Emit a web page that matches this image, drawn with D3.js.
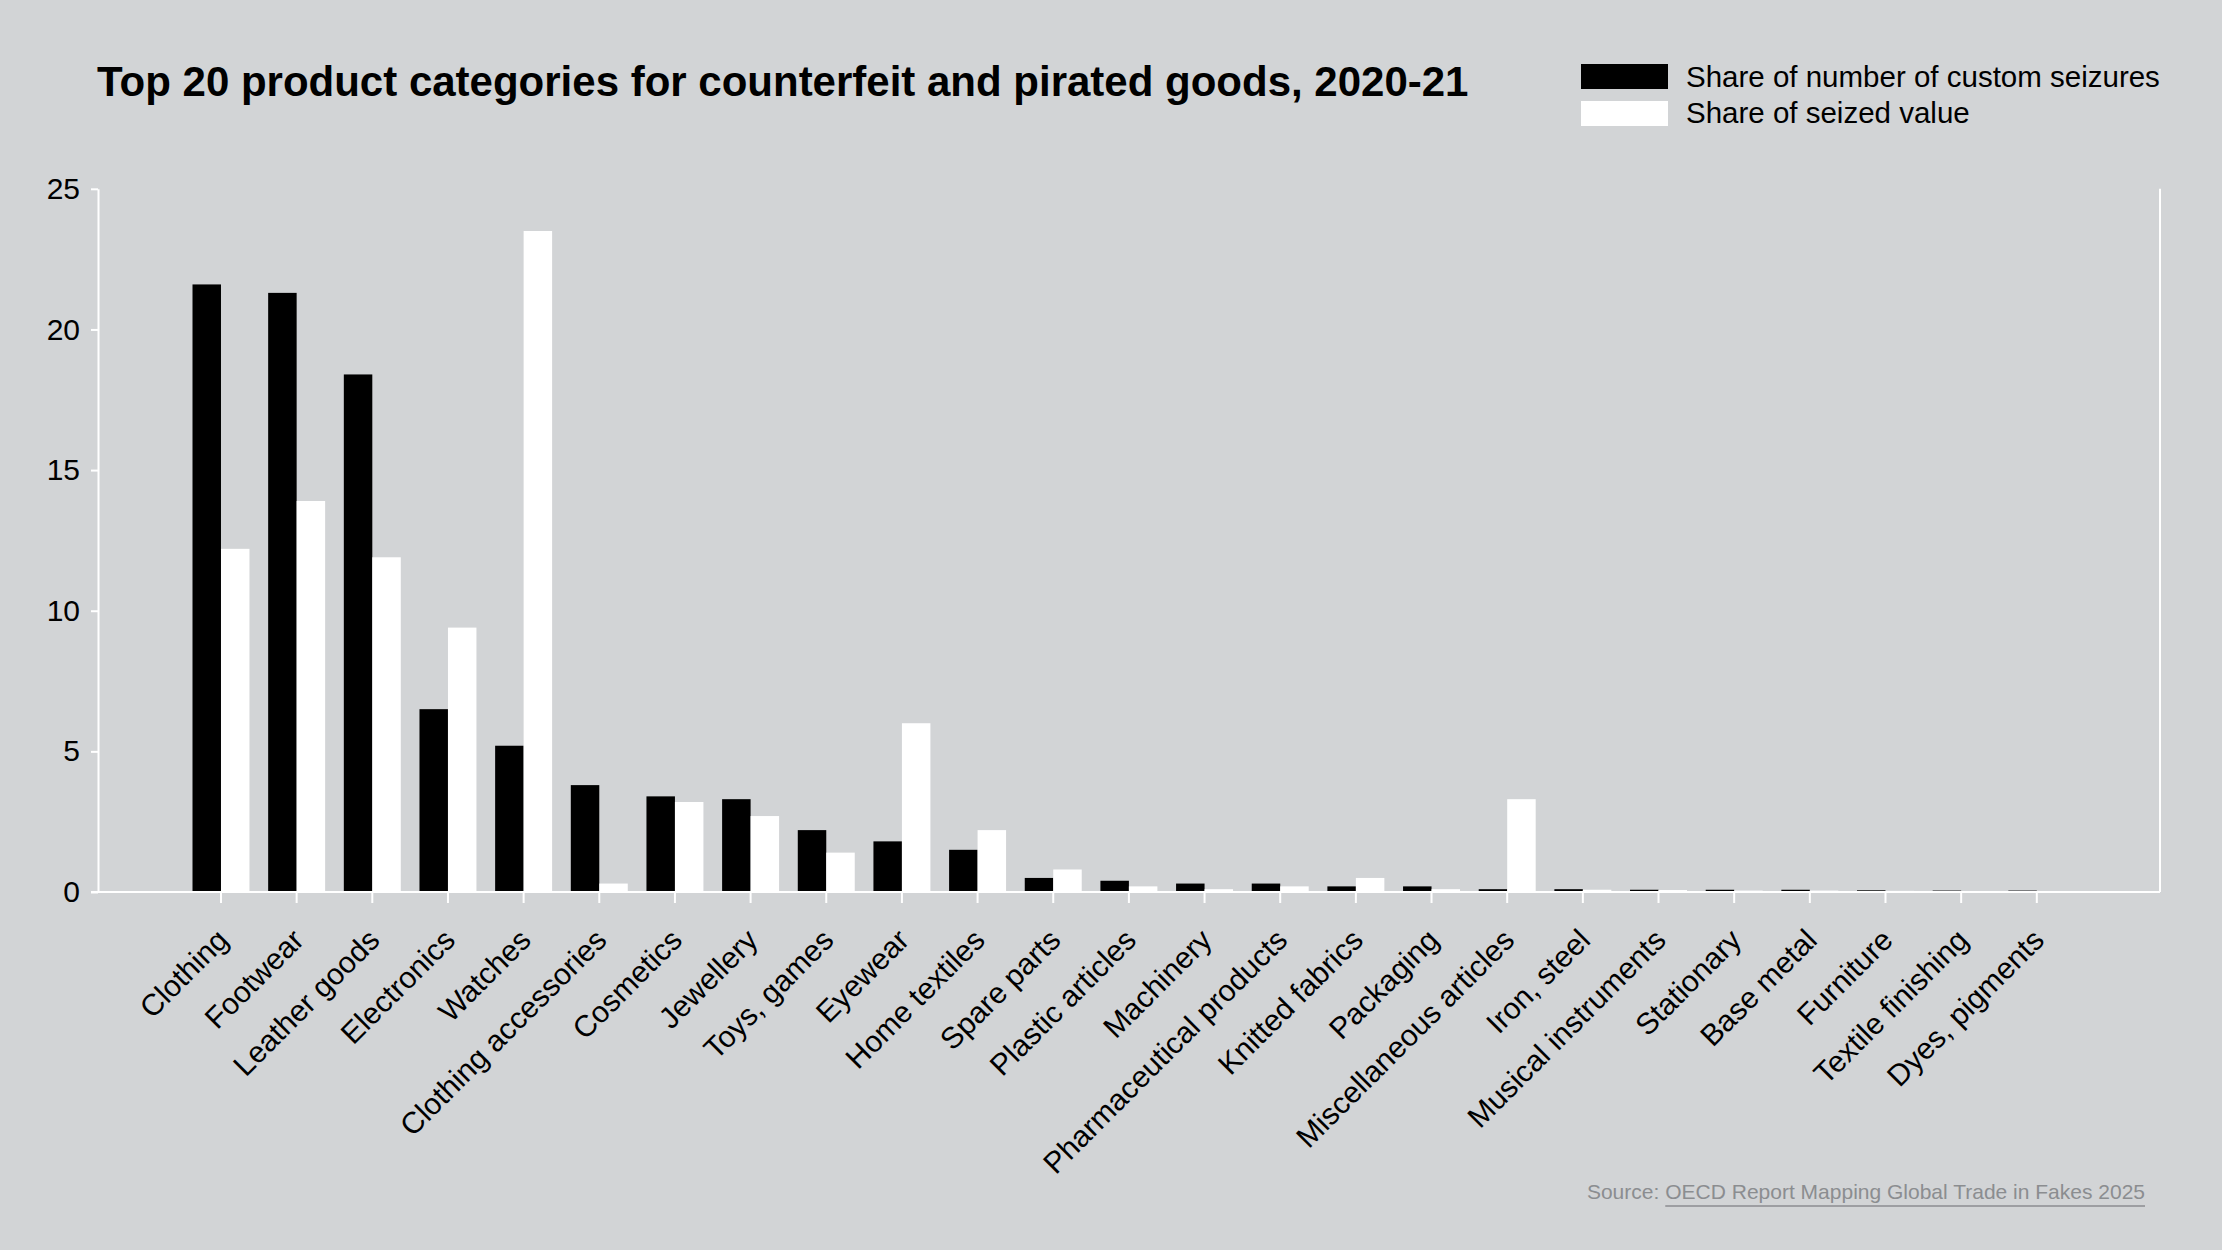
<!DOCTYPE html>
<html>
<head>
<meta charset="utf-8">
<script src="https://d3js.org/d3.v7.min.js"></script>
<style>
  body { margin: 0; background: #d2d4d6; }
  svg { display: block; font-family: "Liberation Sans", Arial, Helvetica, sans-serif; }
</style>
</head>
<body>
<div id="container"></div>
<script>
  // svg dimensions
  width = 2222
  height = 1250

  // data
  var categories = ["Clothing", "Footwear", "Leather goods", "Electronics", "Watches",
    "Clothing accessories", "Cosmetics", "Jewellery", "Toys, games", "Eyewear",
    "Home textiles", "Spare parts", "Plastic articles", "Machinery", "Pharmaceutical products",
    "Knitted fabrics", "Packaging", "Miscellaneous articles", "Iron, steel", "Musical instruments",
    "Stationary", "Base metal", "Furniture", "Textile finishing", "Dyes, pigments"];
  var seizureShare = [21.6, 21.3, 18.4, 6.5, 5.2, 3.8, 3.4, 3.3, 2.2, 1.8,
    1.5, 0.5, 0.4, 0.3, 0.3, 0.2, 0.2, 0.1, 0.1, 0.08,
    0.08, 0.08, 0.06, 0.05, 0.05];
  var valueShare = [12.2, 13.9, 11.9, 9.4, 23.5, 0.3, 3.2, 2.7, 1.4, 6.0,
    2.2, 0.8, 0.2, 0.1, 0.2, 0.5, 0.1, 3.3, 0.08, 0.07,
    0.05, 0.05, 0.04, 0.03, 0.02];
  var seriesNames = ["Share of number of custom seizures", "Share of seized value"];
  var seriesColors = ["#000000", "#ffffff"];
  var yTicks = [0, 5, 10, 15, 20, 25];

  var svg = d3.select("#container").append("svg")
    .attr("width", width)
    .attr("height", height);

  svg.append("rect")
    .attr("width", width)
    .attr("height", height)
    .attr("fill", "#d2d4d6");

  // plot area
  var plotLeft = 98, plotRight = 2160, plotTop = 188.8, plotBottom = 892;

  var x0 = d3.scaleBand()
    .domain(categories)
    .range([192.5, 2065.3])
    .paddingInner(0.247)
    .paddingOuter(0);

  var x1 = d3.scaleBand()
    .domain([0, 1])
    .range([0, x0.bandwidth()]);

  var y = d3.scaleLinear()
    .domain([0, 25])
    .range([plotBottom, plotTop]);

  // title
  svg.append("text")
    .attr("x", 97)
    .attr("y", 96)
    .attr("font-size", 42)
    .attr("font-weight", "bold")
    .attr("fill", "#000")
    .text("Top 20 product categories for counterfeit and pirated goods, 2020-21");

  // legend
  var legend = svg.append("g");
  seriesNames.forEach(function(name, i) {
    legend.append("rect")
      .attr("x", 1581)
      .attr("y", 64 + i * 37)
      .attr("width", 87)
      .attr("height", 25)
      .attr("fill", seriesColors[i]);
    legend.append("text")
      .attr("x", 1686)
      .attr("y", 87 + i * 36)
      .attr("font-size", 29.5)
      .attr("fill", "#000")
      .text(name);
  });

  // bars
  var rows = categories.map(function(c, i) {
    return { name: c, values: [seizureShare[i], valueShare[i]] };
  });

  var groups = svg.append("g")
    .selectAll("g")
    .data(rows)
    .join("g")
    .attr("transform", function(d) { return "translate(" + x0(d.name) + ",0)"; });

  groups.selectAll("rect")
    .data(function(d) { return d.values.map(function(v, k) { return { k: k, v: v }; }); })
    .join("rect")
    .attr("x", function(d) { return x1(d.k); })
    .attr("y", function(d) { return y(d.v); })
    .attr("width", x1.bandwidth())
    .attr("height", function(d) { return plotBottom - y(d.v); })
    .attr("fill", function(d) { return seriesColors[d.k]; });

  // y axis
  var yAxis = svg.append("g")
    .attr("transform", "translate(" + plotLeft + ",0)")
    .call(d3.axisLeft(y).tickValues(yTicks).tickSize(7).tickPadding(11).tickSizeOuter(0));
  yAxis.select(".domain").attr("stroke", "#fff").attr("stroke-width", 2);
  yAxis.selectAll(".tick line").attr("stroke", "#fff").attr("stroke-width", 2);
  yAxis.selectAll(".tick text")
    .attr("font-size", 30)
    .attr("font-family", "Liberation Sans, Arial, sans-serif")
    .attr("fill", "#000");

  // x axis
  var xAxis = svg.append("g")
    .attr("transform", "translate(0," + plotBottom + ")")
    .call(d3.axisBottom(x0).tickSize(11).tickSizeOuter(0));
  xAxis.select(".domain").remove();
  xAxis.selectAll(".tick line").attr("stroke", "#fff").attr("stroke-width", 2);
  xAxis.selectAll(".tick text")
    .attr("font-size", 30)
    .attr("font-family", "Liberation Sans, Arial, sans-serif")
    .attr("fill", "#000")
    .attr("text-anchor", "end")
    .attr("y", 0)
    .attr("dy", 0)
    .attr("transform", "translate(9,50) rotate(-45)");

  xAxis.append("line")
    .attr("x1", plotLeft - 7)
    .attr("x2", plotRight)
    .attr("y1", 0)
    .attr("y2", 0)
    .attr("stroke", "#fff")
    .attr("stroke-width", 2);

  // right border line
  svg.append("line")
    .attr("x1", plotRight)
    .attr("x2", plotRight)
    .attr("y1", plotTop)
    .attr("y2", plotBottom)
    .attr("stroke", "#fff")
    .attr("stroke-width", 2);

  // source
  var linkText = svg.append("text")
    .attr("x", 2145)
    .attr("y", 1199)
    .attr("font-size", 21)
    .attr("text-anchor", "end")
    .attr("fill", "#8b8d90")
    .text("OECD Report Mapping Global Trade in Fakes 2025");
  var linkLen = linkText.node().getComputedTextLength();
  svg.append("text")
    .attr("x", 2145 - linkLen - 6)
    .attr("y", 1199)
    .attr("font-size", 21)
    .attr("text-anchor", "end")
    .attr("fill", "#8b8d90")
    .text("Source:");
  svg.append("line")
    .attr("x1", 2145 - linkLen)
    .attr("x2", 2145)
    .attr("y1", 1206)
    .attr("y2", 1206)
    .attr("stroke", "#8b8d90")
    .attr("stroke-width", 1.5);
</script>
</body>
</html>
